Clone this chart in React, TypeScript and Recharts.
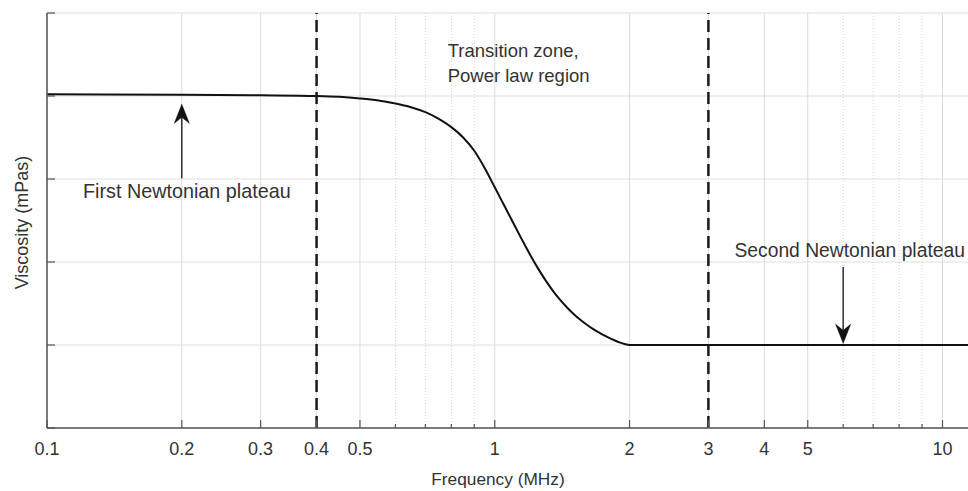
import React from "react";
import {
  LineChart,
  Line,
  XAxis,
  YAxis,
  CartesianGrid,
  ReferenceLine,
  ReferenceDot,
  Label,
} from "recharts";

// ---- data ----
const frequency = [
  0.1, 0.2, 0.3, 0.4, 0.45, 0.5, 0.55, 0.6, 0.65, 0.7, 0.75, 0.8, 0.85, 0.9, 0.95,
  1.0, 1.05, 1.1, 1.15, 1.2, 1.25, 1.3, 1.35, 1.4, 1.45, 1.5, 1.55, 1.6, 1.65, 1.7, 1.75,
  1.8, 1.85, 1.9, 1.95, 2.0, 3, 5, 8, 11.4,
];
const viscosity = [
  4.02, 4.015, 4.008, 4.0, 3.99, 3.97, 3.945, 3.91, 3.865, 3.805, 3.725, 3.625, 3.5, 3.34, 3.13,
  2.9, 2.68, 2.47, 2.27, 2.085, 1.92, 1.775, 1.65, 1.543, 1.452, 1.374, 1.307, 1.25, 1.2, 1.157, 1.119,
  1.086, 1.057, 1.032, 1.012, 1.0, 1.0, 1.0, 1.0, 1.0,
];

const majorTicks = [0.1, 0.2, 0.3, 0.4, 0.5, 1, 2, 3, 4, 5, 10];
const majorTickLabels = ["0.1", "0.2", "0.3", "0.4", "0.5", "1", "2", "3", "4", "5", "10"];
const minorTicks = [0.6, 0.7, 0.8, 0.9, 6, 7, 8, 9];
const yTicks = [0, 1, 2, 3, 4, 5];
const xDomain = [0.1, 11.4];
const yDomain = [0, 5];

const regionBounds = [0.4, 3];

const annotationTexts = ["Transition zone,", "Power law region", "First Newtonian plateau", "Second Newtonian plateau"];
const annotationX = [0.785, 0.785, 0.1203, 3.43];
const annotationY = [4.47, 4.17, 2.77, 2.06];

const arrowX = [0.2, 6];
const arrowTail = [3.01, 1.94];
const arrowTip = [3.9, 1.02];

const data = frequency.map((f, i) => ({ f, v: viscosity[i] }));

const FONT = '"Liberation Sans", Arial, Helvetica, sans-serif';
const TEXT = "#333";
const AXIS = "#555";
const annotationFontSizes = [18.5, 18.5, 19.8, 19.3];

const BottomTick = (props: any) => {
  const { x, y, payload } = props;
  const idx = majorTicks.indexOf(payload.value);
  const major = idx >= 0;
  return (
    <g>
      <line x1={x} x2={x} y1={y} y2={y - (major ? 8 : 4)} stroke={AXIS} strokeWidth={1.2} />
      {major && (
        <text x={x} y={y + 27} textAnchor="middle" fontSize={18} fontFamily={FONT} fill={TEXT}>
          {majorTickLabels[idx]}
        </text>
      )}
    </g>
  );
};

const TopTick = (props: any) => {
  const { x, y, payload } = props;
  const major = majorTicks.indexOf(payload.value) >= 0;
  return <line x1={x} x2={x} y1={y} y2={y + (major ? 8 : 4)} stroke={AXIS} strokeWidth={1.2} />;
};

const LeftTick = (props: any) => {
  const { x, y } = props;
  return <line x1={x} x2={x + 8} y1={y} y2={y} stroke={AXIS} strokeWidth={1.2} />;
};

const ArrowShape = (props: any) => {
  const { x1, y1, x2, y2 } = props;
  const dx = x2 - x1;
  const dy = y2 - y1;
  const len = Math.sqrt(dx * dx + dy * dy) || 1;
  const ux = dx / len;
  const uy = dy / len;
  const px = -uy;
  const py = ux;
  const headL = 19;
  const headW = 7.5;
  const notch = 13;
  const bx = x2 - ux * headL;
  const by = y2 - uy * headL;
  const nx = x2 - ux * notch;
  const ny = y2 - uy * notch;
  const d = `M${x2},${y2} L${bx + px * headW},${by + py * headW} L${nx},${ny} L${bx - px * headW},${by - py * headW} Z`;
  return (
    <g>
      <line x1={x1} y1={y1} x2={nx} y2={ny} stroke="#222" strokeWidth={1.4} />
      <path d={d} fill="#111" stroke="#111" strokeWidth={0.5} />
    </g>
  );
};

const makeTextShape = (txt: string, size: number) => (props: any) => {
  const { cx, cy } = props;
  return (
    <text x={cx} y={cy} fontSize={size} fontFamily={FONT} fill={TEXT} textAnchor="start">
      {txt}
    </text>
  );
};

export default function App() {
  return (
    <div style={{ position: "absolute", left: 0, top: 0, width: 968, height: 491, background: "#fff" }}>
      <LineChart width={968} height={491} data={data} margin={{ top: 13, right: 0, left: 0, bottom: 0 }}>
        <CartesianGrid vertical={false} stroke="#dedede" strokeWidth={1} />
        {majorTicks.map((t) => (
          <ReferenceLine key={"maj" + t} x={t} stroke="#dcdcdc" strokeWidth={1} />
        ))}
        {minorTicks.map((t) => (
          <ReferenceLine key={"min" + t} x={t} stroke="#d2d2d2" strokeWidth={1} strokeDasharray="1 2" />
        ))}
        <XAxis
          dataKey="f"
          type="number"
          scale="log"
          domain={xDomain}
          allowDataOverflow
          ticks={[...majorTicks, ...minorTicks]}
          interval={0}
          tickSize={0}
          tickMargin={0}
          tick={<BottomTick />}
          axisLine={{ stroke: AXIS, strokeWidth: 1.5 }}
          height={63}
          label={
            <Label
              content={(p: any) => {
                const vb = p.viewBox || { x: 47, y: 428, width: 921 };
                return (
                  <text x={vb.x + 451} y={vb.y + 57} textAnchor="middle" fontSize={17.3} fontFamily={FONT} fill={TEXT}>
                    Frequency (MHz)
                  </text>
                );
              }}
            />
          }
        />
        <XAxis
          xAxisId="top"
          dataKey="f"
          type="number"
          scale="log"
          orientation="top"
          domain={xDomain}
          allowDataOverflow
          ticks={[...majorTicks, ...minorTicks]}
          interval={0}
          tickSize={0}
          tickMargin={0}
          tick={<TopTick />}
          axisLine={{ stroke: AXIS, strokeWidth: 1.5 }}
          height={0}
        />
        <YAxis
          type="number"
          domain={yDomain}
          ticks={yTicks}
          interval={0}
          width={47}
          tickSize={0}
          tickMargin={0}
          tick={<LeftTick />}
          axisLine={{ stroke: AXIS, strokeWidth: 1.5 }}
          label={
            <Label
              content={(p: any) => {
                const vb = p.viewBox || { x: 0, y: 13, width: 47, height: 415 };
                const cx = vb.x + 28;
                const cy = vb.y + vb.height / 2 + 2;
                return (
                  <text
                    x={cx}
                    y={cy}
                    transform={`rotate(-90 ${cx} ${cy})`}
                    textAnchor="middle"
                    fontSize={18}
                    fontFamily={FONT}
                    fill={TEXT}
                  >
                    Viscosity (mPas)
                  </text>
                );
              }}
            />
          }
        />
        <Line
          type="monotone"
          dataKey="v"
          stroke="#111"
          strokeWidth={2}
          dot={false}
          activeDot={false}
          isAnimationActive={false}
        />
        {regionBounds.map((b) => (
          <ReferenceLine key={"rb" + b} x={b} stroke="#1a1a1a" strokeWidth={2.5} strokeDasharray="12 6" />
        ))}
        {arrowX.map((ax, i) => (
          <ReferenceLine
            key={"arrow" + i}
            segment={[
              { x: ax, y: arrowTail[i] },
              { x: ax, y: arrowTip[i] },
            ]}
            shape={<ArrowShape />}
            ifOverflow="visible"
          />
        ))}
        {annotationTexts.map((t, i) => (
          <ReferenceDot
            key={"ann" + i}
            x={annotationX[i]}
            y={annotationY[i]}
            r={0}
            ifOverflow="visible"
            shape={makeTextShape(t, annotationFontSizes[i])}
          />
        ))}
      </LineChart>
    </div>
  );
}
